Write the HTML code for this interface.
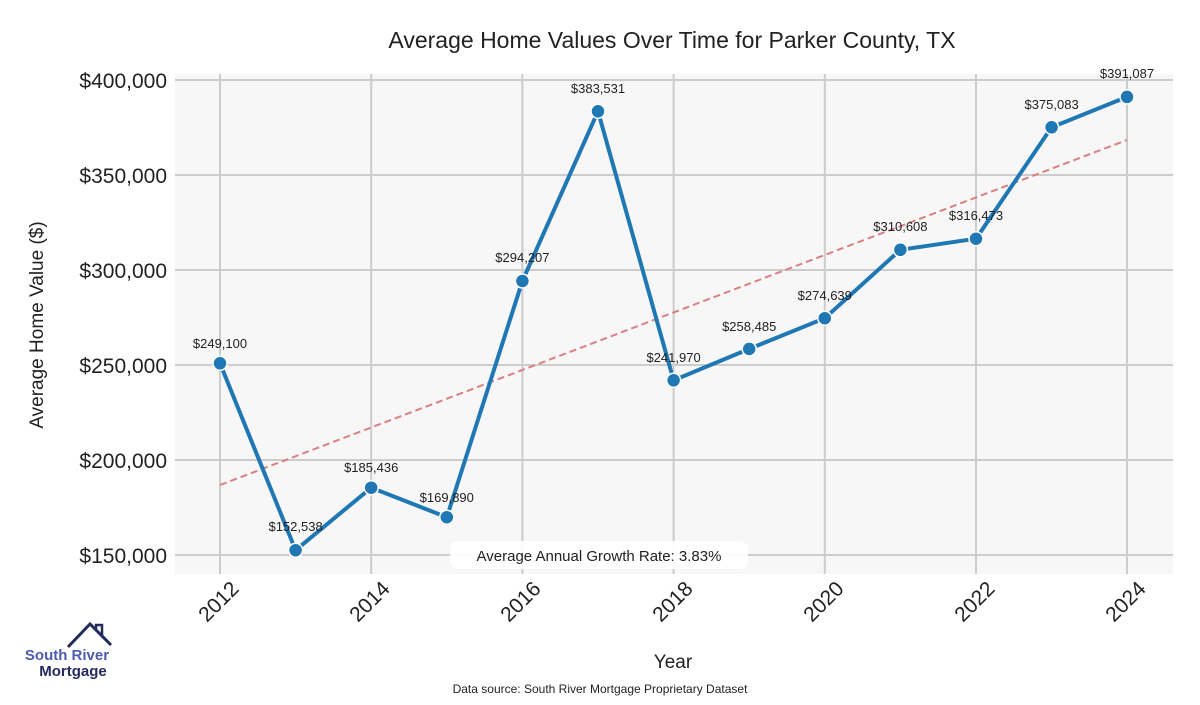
<!DOCTYPE html>
<html><head><meta charset="utf-8"><style>
html,body{margin:0;padding:0;background:#fff;}
svg text{font-family:"Liberation Sans",sans-serif;}
</style></head><body>
<svg width="1200" height="700" viewBox="0 0 1200 700" xmlns="http://www.w3.org/2000/svg">
<rect x="175" y="74" width="998" height="500" fill="#f7f7f7"/>
<g stroke="#cccccc" stroke-width="2">
<line x1="175" y1="80" x2="1173" y2="80"/><line x1="175" y1="175" x2="1173" y2="175"/>
<line x1="175" y1="270" x2="1173" y2="270"/><line x1="175" y1="365" x2="1173" y2="365"/>
<line x1="175" y1="460" x2="1173" y2="460"/><line x1="175" y1="555" x2="1173" y2="555"/>
<line x1="220" y1="74" x2="220" y2="574"/><line x1="371.2" y1="74" x2="371.2" y2="574"/>
<line x1="522.4" y1="74" x2="522.4" y2="574"/><line x1="673.6" y1="74" x2="673.6" y2="574"/>
<line x1="824.8" y1="74" x2="824.8" y2="574"/><line x1="976" y1="74" x2="976" y2="574"/>
<line x1="1127" y1="74" x2="1127" y2="574"/>
</g>
<text x="672" y="48" font-size="23" text-anchor="middle" fill="#222">Average Home Values Over Time for Parker County, TX</text>
<g font-size="21" fill="#222" text-anchor="end">
<text x="167" y="88">$400,000</text><text x="167" y="183">$350,000</text><text x="167" y="278">$300,000</text>
<text x="167" y="373">$250,000</text><text x="167" y="468">$200,000</text><text x="167" y="563">$150,000</text>
</g>
<text transform="translate(43,325) rotate(-90)" font-size="19" text-anchor="middle" fill="#222">Average Home Value ($)</text>
<g font-size="21" fill="#222" text-anchor="end">
<text transform="translate(240,590) rotate(-45)">2012</text>
<text transform="translate(391,590) rotate(-45)">2014</text>
<text transform="translate(542,590) rotate(-45)">2016</text>
<text transform="translate(694,590) rotate(-45)">2018</text>
<text transform="translate(845,590) rotate(-45)">2020</text>
<text transform="translate(996,590) rotate(-45)">2022</text>
<text transform="translate(1147,590) rotate(-45)">2024</text>
</g>
<text x="673" y="668" font-size="19" text-anchor="middle" fill="#222">Year</text>
<text x="600" y="693" font-size="12" text-anchor="middle" fill="#222">Data source: South River Mortgage Proprietary Dataset</text>
<line x1="220" y1="485" x2="1127" y2="140" stroke="#d98080" stroke-width="2" stroke-dasharray="7,4"/>
<polyline fill="none" stroke="#1f77b4" stroke-width="4" stroke-linejoin="round" points="220,363.3 295.6,550.2 371.2,487.7 446.8,517.2 522.4,281 598,111.3 673.6,380.3 749.2,348.9 824.8,318.2 900.4,249.8 976,238.7 1051.6,127.3 1127,96.9"/>
<g fill="#1f77b4" stroke="#fff" stroke-width="1.5">
<circle cx="220" cy="363.3" r="7"/><circle cx="295.6" cy="550.2" r="7"/><circle cx="371.2" cy="487.7" r="7"/>
<circle cx="446.8" cy="517.2" r="7"/><circle cx="522.4" cy="281" r="7"/><circle cx="598" cy="111.3" r="7"/>
<circle cx="673.6" cy="380.3" r="7"/><circle cx="749.2" cy="348.9" r="7"/><circle cx="824.8" cy="318.2" r="7"/>
<circle cx="900.4" cy="249.8" r="7"/><circle cx="976" cy="238.7" r="7"/><circle cx="1051.6" cy="127.3" r="7"/>
<circle cx="1127" cy="96.9" r="7"/>
</g>
<g font-size="13" fill="#222" text-anchor="middle">
<text x="220" y="348">$249,100</text><text x="295.6" y="531">$152,538</text><text x="371.2" y="472">$185,436</text>
<text x="446.8" y="502">$169,890</text><text x="522.4" y="262">$294,207</text><text x="598" y="93">$383,531</text>
<text x="673.6" y="362">$241,970</text><text x="749.2" y="331">$258,485</text><text x="824.8" y="300">$274,639</text>
<text x="900.4" y="231">$310,608</text><text x="976" y="220">$316,473</text><text x="1051.6" y="109">$375,083</text>
<text x="1127" y="78">$391,087</text>
</g>
<rect x="450" y="541" width="298" height="28" rx="8" fill="#fff" opacity="0.9"/>
<text x="599" y="561" font-size="15" text-anchor="middle" fill="#222">Average Annual Growth Rate: 3.83%</text>
<polyline points="68,647 90,624 111,645" fill="none" stroke="#232a5c" stroke-width="3"/>
<polyline points="96,630 96,625 102,625 102,636" fill="none" stroke="#232a5c" stroke-width="2.5"/>
<text x="67" y="660" font-size="15" font-weight="bold" text-anchor="middle" fill="#4a5bb0">South River</text>
<text x="73" y="676" font-size="15" font-weight="bold" text-anchor="middle" fill="#232a5c">Mortgage</text>
</svg>
</body></html>
